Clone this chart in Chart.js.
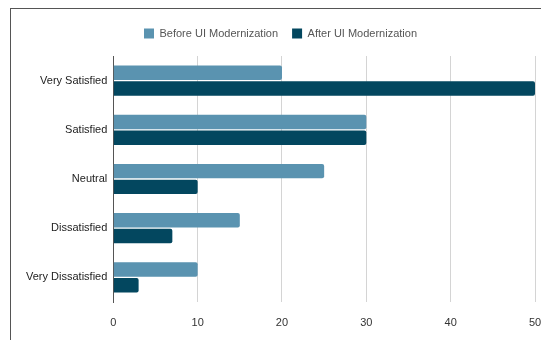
<!DOCTYPE html>
<html>
<head>
<meta charset="utf-8">
<script src="https://cdn.jsdelivr.net/npm/chart.js@4/dist/chart.umd.min.js"></script>
<style>
  body { margin: 0; background: #fff; }
  #wrap { position: relative; width: 541px; height: 340px; overflow: hidden; }
  #frame { position: absolute; left: 10px; top: 8px; width: 600px; height: 400px;
           border-left: 1px solid #555; border-top: 1px solid #555; }
  canvas { position: absolute; left: 0; top: 0; }
</style>
</head>
<body>
<div id="wrap">
  <div id="frame"></div>
  <canvas id="grafico" width="541" height="340"></canvas>
</div>
<script>
// dados
const categorias = ['Very Satisfied', 'Satisfied', 'Neutral', 'Dissatisfied', 'Very Dissatisfied'];
const antes = [20, 30, 25, 15, 10];
const depois = [50, 30, 10, 7, 3];
const ticksX = [0, 10, 20, 30, 40, 50];

const ctx = document.getElementById('grafico');

// espaço extra abaixo da legenda
const margemLegenda = {
  id: 'margemLegenda',
  beforeInit(chart) {
    const fit = chart.legend.fit;
    chart.legend.fit = function () {
      fit.bind(chart.legend)();
      this.height += 7;
    };
  }
};

new Chart(ctx, {
  type: 'bar',
  data: {
    labels: categorias,
    datasets: [{
      label: 'Before UI Modernization',
      data: antes,
      backgroundColor: '#5a93b0',
      borderRadius: 2,
      categoryPercentage: 0.64,
      barPercentage: 0.92
    }, {
      label: 'After UI Modernization',
      data: depois,
      backgroundColor: '#03475f',
      borderRadius: 2,
      categoryPercentage: 0.64,
      barPercentage: 0.92
    }]
  },
  options: {
    indexAxis: 'y',
    responsive: false,
    animation: false,
    layout: { padding: { top: 14, right: 0, bottom: 0, left: 20 } },
    scales: {
      x: {
        min: ticksX[0],
        max: ticksX[ticksX.length - 1],
        afterBuildTicks: axis => { axis.ticks = ticksX.map(v => ({ value: v })); },
        afterFit: scale => {
          scale.height = 38;
          scale.paddingLeft = 0;
          scale.paddingRight = 6;
        },
        ticks: { color: '#333', font: { family: 'Liberation Sans', size: 11 }, padding: 14 },
        grid: { color: '#d4d4d4', drawTicks: false },
        border: { display: false }
      },
      y: {
        ticks: { color: '#222', font: { family: 'Liberation Sans', size: 11 }, padding: 6 },
        grid: { display: false, drawTicks: false },
        border: { color: '#555' }
      }
    },
    plugins: {
      legend: {
        labels: {
          color: '#555',
          font: { family: 'Liberation Sans', size: 11 },
          boxWidth: 10,
          boxHeight: 10,
          padding: 14
        }
      },
      tooltip: { enabled: false }
    }
  },
  plugins: [margemLegenda]
});
</script>
</body>
</html>
